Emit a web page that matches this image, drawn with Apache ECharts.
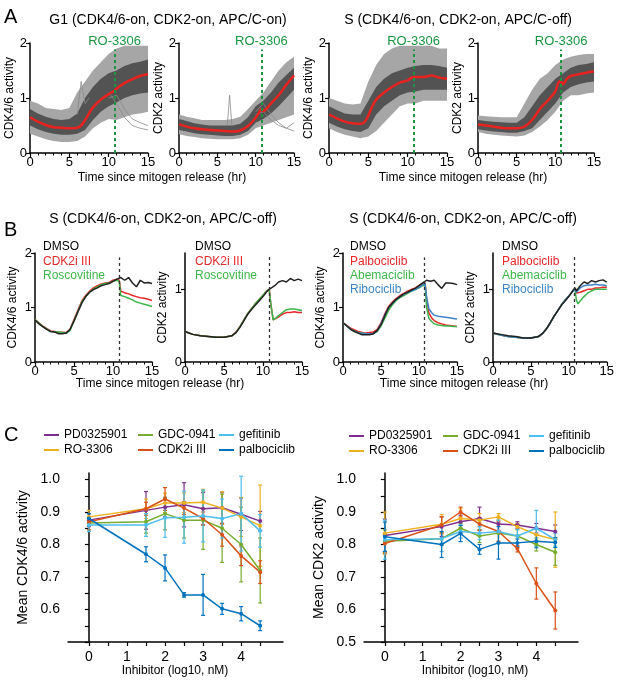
<!DOCTYPE html>
<html>
<head>
<meta charset="utf-8">
<script src="https://cdn.jsdelivr.net/npm/echarts@6/dist/echarts.min.js"></script>
<style>
  html, body { margin: 0; background: #fff; }
  #main { width: 617px; height: 680px; }
</style>
</head>
<body>
<div id="main"></div>
<script>
// ---------- data ----------
var hrs = [0, 1, 2, 3, 4, 5, 6, 7, 8, 9, 10, 11, 12, 13, 14, 15];
var drugTime = 10.75;

// Panel A: single-cell cloud (outer / dense core envelopes at each hour) + mean trace
var a1OuterHi = [0.95, 0.9, 0.82, 0.8, 0.78, 0.82, 1.1, 1.3, 1.5, 1.65, 1.8, 1.9, 1.95, 1.95, 1.95, 1.95];
var a1InnerHi = [0.8, 0.72, 0.66, 0.62, 0.6, 0.62, 0.72, 1.0, 1.2, 1.35, 1.45, 1.5, 1.58, 1.63, 1.66, 1.7];
var a1InnerLo = [0.5, 0.43, 0.38, 0.35, 0.33, 0.33, 0.35, 0.42, 0.6, 0.75, 0.85, 0.92, 1.0, 1.05, 1.08, 1.1];
var a1OuterLo = [0.35, 0.3, 0.25, 0.22, 0.2, 0.2, 0.22, 0.3, 0.45, 0.55, 0.62, 0.6, 0.65, 0.7, 0.72, 0.75];
var a1Mean = [[0,0.65],[1,0.57],[2,0.51],[3,0.47],[4,0.46],[5,0.45],[6,0.46],[6.5,0.5],[7,0.6],[7.5,0.72],[8,0.83],[9,0.97],[10,1.07],[10.75,1.13],[11,1.17],[12,1.27],[13,1.34],[14,1.4],[15,1.43]];
var a1Odd1 = [[10,1.1],[11,0.9],[12,0.65],[13,0.5],[14,0.45],[15,0.42]];
var a1Odd2 = [[10,1.0],[11,1.05],[12,0.8],[13,0.62],[14,0.55],[15,0.5]];
var a1Odd3 = [[6,0.7],[6.5,1.3],[7,0.9],[7.5,1.0]];

var a2OuterHi = [0.7, 0.66, 0.63, 0.6, 0.6, 0.6, 0.6, 0.62, 0.66, 0.8, 0.95, 1.1, 1.3, 1.5, 1.65, 1.75];
var a2InnerHi = [0.62, 0.58, 0.54, 0.52, 0.5, 0.5, 0.5, 0.5, 0.53, 0.65, 0.85, 0.95, 1.1, 1.28, 1.42, 1.55];
var a2InnerLo = [0.42, 0.39, 0.36, 0.34, 0.33, 0.32, 0.31, 0.31, 0.33, 0.4, 0.55, 0.62, 0.72, 0.85, 1.0, 1.15];
var a2OuterLo = [0.34, 0.31, 0.29, 0.27, 0.26, 0.25, 0.25, 0.25, 0.27, 0.33, 0.45, 0.5, 0.55, 0.6, 0.65, 0.7];
var a2Mean = [[0,0.52],[1,0.48],[2,0.45],[3,0.43],[4,0.42],[5,0.41],[6,0.4],[7,0.39],[8,0.41],[9,0.49],[10,0.64],[10.5,0.75],[10.75,0.8],[11,0.76],[11.5,0.82],[12,0.9],[13,1.05],[14,1.24],[15,1.41]];
var a2Odd1 = [[6.3,0.5],[6.6,1.05],[6.9,0.5]];
var a2Odd2 = [[10,0.75],[11,0.9],[12,0.7],[13,0.55],[14,0.45],[15,0.4]];
var a2Odd3 = [[10,0.7],[11,0.75],[12,0.6],[13,0.5],[14,0.45],[15,0.55]];

var a3OuterHi = [1.0, 0.95, 0.9, 0.88, 0.9, 1.3, 1.6, 1.8, 1.9, 1.95, 1.95, 1.95, 1.95, 1.95, 1.9, 1.9];
var a3InnerHi = [0.85, 0.78, 0.72, 0.7, 0.7, 0.95, 1.2, 1.35, 1.45, 1.5, 1.55, 1.58, 1.6, 1.6, 1.58, 1.55];
var a3InnerLo = [0.55, 0.48, 0.43, 0.4, 0.38, 0.45, 0.7, 0.85, 0.95, 1.05, 1.1, 1.12, 1.15, 1.15, 1.15, 1.15];
var a3OuterLo = [0.45, 0.38, 0.33, 0.3, 0.27, 0.3, 0.4, 0.55, 0.7, 0.85, 0.9, 0.9, 0.95, 0.95, 0.95, 0.95];
var a3Mean = [[0,0.7],[1,0.63],[2,0.57],[3,0.54],[4,0.53],[4.5,0.56],[5,0.68],[5.5,0.85],[6,0.97],[7,1.1],[8,1.2],[9,1.28],[10,1.32],[10.5,1.37],[11,1.38],[12,1.38],[13,1.41],[14,1.37],[15,1.35]];

var a4OuterHi = [0.68, 0.67, 0.66, 0.65, 0.65, 0.65, 0.9, 1.15, 1.35, 1.45, 1.6, 1.7, 1.75, 1.78, 1.8, 1.8];
var a4InnerHi = [0.6, 0.58, 0.57, 0.56, 0.55, 0.55, 0.65, 0.85, 1.05, 1.2, 1.35, 1.45, 1.55, 1.6, 1.62, 1.65];
var a4InnerLo = [0.43, 0.41, 0.39, 0.38, 0.37, 0.37, 0.4, 0.45, 0.6, 0.75, 0.9, 1.1, 1.2, 1.25, 1.28, 1.3];
var a4OuterLo = [0.38, 0.35, 0.33, 0.32, 0.31, 0.3, 0.32, 0.38, 0.48, 0.6, 0.75, 0.95, 1.05, 1.05, 1.08, 1.1];
var a4Mean = [[0,0.52],[1,0.5],[2,0.48],[3,0.46],[4,0.45],[5,0.45],[6,0.48],[7,0.6],[8,0.8],[9,0.95],[10,1.12],[10.5,1.3],[10.75,1.3],[11,1.25],[11.5,1.35],[12,1.4],[13,1.43],[14,1.46],[15,1.48]];

// Panel B: mean traces with drug added at drugTime
var b1Dmso = [[0,0.77],[0.5,0.7],[1,0.65],[1.5,0.6],[2,0.56],[2.5,0.55],[3,0.52],[3.5,0.52],[4,0.53],[4.5,0.6],[5,0.75],[5.5,0.92],[6,1.08],[6.5,1.2],[7,1.28],[7.5,1.33],[8,1.36],[8.5,1.4],[9,1.42],[9.5,1.44],[10,1.48],[10.5,1.52],[11,1.55],[11.5,1.5],[12,1.55],[12.5,1.45],[13,1.38],[13.5,1.5],[14,1.45],[14.5,1.46],[15,1.44]];
var b1Cdk2i = [[0,0.78],[1,0.66],[2,0.57],[3,0.55],[4,0.54],[4.5,0.6],[5,0.78],[5.5,0.95],[6,1.12],[6.5,1.22],[7,1.3],[7.5,1.36],[8,1.4],[8.5,1.43],[9,1.45],[9.5,1.46],[10,1.5],[10.5,1.52],[10.8,1.5],[11,1.3],[11.5,1.27],[12,1.25],[12.5,1.22],[13,1.2],[13.5,1.18],[14,1.17],[14.5,1.15],[15,1.13]];
var b1Rosco = [[0,0.78],[1,0.65],[2,0.56],[3,0.55],[4,0.53],[4.5,0.58],[5,0.76],[5.5,0.93],[6,1.1],[6.5,1.2],[7,1.28],[7.5,1.34],[8,1.38],[8.5,1.42],[9,1.44],[9.5,1.45],[10,1.48],[10.5,1.5],[10.8,1.48],[11,1.22],[11.5,1.2],[12,1.17],[12.5,1.14],[13,1.1],[13.5,1.08],[14,1.06],[14.5,1.04],[15,1.02]];

var b2Dmso = [[0,0.42],[0.5,0.4],[1,0.38],[2,0.36],[3,0.35],[4,0.34],[5,0.34],[6,0.36],[6.5,0.4],[7,0.47],[7.5,0.56],[8,0.65],[8.5,0.72],[9,0.78],[9.5,0.84],[10,0.9],[10.5,0.97],[10.8,1.0],[11,0.98],[11.5,1.05],[12,1.1],[12.5,1.12],[13,1.1],[13.5,1.15],[14,1.12],[14.5,1.14],[15,1.12]];
var b2Cdk2i = [[0,0.42],[1,0.38],[2,0.36],[3,0.35],[4,0.34],[5,0.34],[6,0.36],[6.5,0.41],[7,0.48],[7.5,0.57],[8,0.66],[8.5,0.73],[9,0.8],[9.5,0.86],[10,0.92],[10.5,0.98],[10.8,1.0],[11,0.8],[11.3,0.58],[11.7,0.6],[12,0.62],[12.5,0.66],[13,0.68],[13.5,0.68],[14,0.69],[14.5,0.68],[15,0.68]];
var b2Rosco = [[0,0.42],[1,0.38],[2,0.36],[3,0.35],[4,0.34],[5,0.34],[6,0.36],[6.5,0.4],[7,0.48],[7.5,0.57],[8,0.66],[8.5,0.73],[9,0.8],[9.5,0.86],[10,0.92],[10.5,0.98],[10.8,1.0],[11,0.8],[11.3,0.58],[11.7,0.61],[12,0.64],[12.5,0.68],[13,0.72],[13.5,0.73],[14,0.73],[14.5,0.72],[15,0.71]];

var b3Dmso = [[0,0.72],[0.5,0.66],[1,0.6],[1.5,0.56],[2,0.53],[2.5,0.5],[3,0.5],[3.5,0.5],[4,0.52],[4.5,0.58],[5,0.68],[5.5,0.85],[6,1.0],[6.5,1.08],[7,1.15],[7.5,1.2],[8,1.25],[8.5,1.28],[9,1.32],[9.5,1.35],[10,1.4],[10.5,1.45],[11,1.5],[11.5,1.48],[12,1.5],[12.5,1.42],[13,1.35],[13.5,1.45],[14,1.45],[14.5,1.44],[15,1.42]];
var b3Palbo = [[0,0.72],[1,0.62],[2,0.56],[3,0.53],[4,0.55],[4.5,0.6],[5,0.72],[5.5,0.88],[6,1.02],[6.5,1.1],[7,1.17],[7.5,1.22],[8,1.26],[8.5,1.3],[9,1.33],[9.5,1.36],[10,1.4],[10.5,1.45],[10.8,1.45],[11,1.15],[11.3,0.9],[11.7,0.8],[12,0.76],[12.5,0.72],[13,0.7],[13.5,0.68],[14,0.67],[14.5,0.66],[15,0.65]];
var b3Abema = [[0,0.72],[1,0.6],[2,0.54],[3,0.52],[4,0.52],[4.5,0.56],[5,0.66],[5.5,0.8],[6,0.95],[6.5,1.05],[7,1.13],[7.5,1.18],[8,1.22],[8.5,1.26],[9,1.3],[9.5,1.33],[10,1.36],[10.5,1.4],[10.8,1.42],[11,1.0],[11.3,0.8],[11.7,0.74],[12,0.7],[12.5,0.68],[13,0.67],[13.5,0.66],[14,0.66],[14.5,0.65],[15,0.65]];
var b3Ribo = [[0,0.72],[1,0.6],[2,0.53],[3,0.52],[4,0.52],[4.5,0.57],[5,0.7],[5.5,0.86],[6,1.0],[6.5,1.08],[7,1.15],[7.5,1.2],[8,1.24],[8.5,1.28],[9,1.3],[9.5,1.33],[10,1.37],[10.5,1.42],[10.8,1.44],[11,1.2],[11.3,0.98],[11.7,0.9],[12,0.86],[12.5,0.84],[13,0.83],[13.5,0.82],[14,0.81],[14.5,0.8],[15,0.79]];

var b4Dmso = [[0,0.4],[0.5,0.39],[1,0.38],[2,0.36],[3,0.35],[4,0.33],[5,0.33],[6,0.35],[6.5,0.39],[7,0.45],[7.5,0.53],[8,0.62],[8.5,0.7],[9,0.78],[9.5,0.84],[10,0.9],[10.5,0.98],[10.8,1.02],[11,0.98],[11.5,1.05],[12,1.1],[12.5,1.08],[13,1.12],[13.5,1.1],[14,1.12],[14.5,1.13],[15,1.1]];
var b4Palbo = [[0,0.4],[1,0.37],[2,0.35],[3,0.34],[4,0.33],[5,0.33],[6,0.35],[6.5,0.39],[7,0.45],[7.5,0.53],[8,0.62],[8.5,0.7],[9,0.78],[9.5,0.85],[10,0.91],[10.5,0.97],[10.8,1.0],[11,0.95],[11.5,0.96],[12,0.98],[12.5,1.0],[13,1.0],[13.5,1.02],[14,1.02],[14.5,1.03],[15,1.03]];
var b4Abema = [[0,0.4],[1,0.37],[2,0.35],[3,0.34],[4,0.33],[5,0.33],[6,0.35],[6.5,0.39],[7,0.45],[7.5,0.53],[8,0.62],[8.5,0.7],[9,0.78],[9.5,0.85],[10,0.91],[10.5,0.97],[10.8,1.0],[11,0.85],[11.2,0.8],[11.5,0.84],[12,0.9],[12.5,0.95],[13,0.98],[13.5,1.0],[14,1.0],[14.5,1.0],[15,1.0]];
var b4Ribo = [[0,0.4],[1,0.37],[2,0.35],[3,0.34],[4,0.33],[5,0.33],[6,0.35],[6.5,0.39],[7,0.45],[7.5,0.53],[8,0.62],[8.5,0.7],[9,0.78],[9.5,0.85],[10,0.91],[10.5,0.97],[10.8,1.0],[11,0.96],[11.5,1.02],[12,1.05],[12.5,1.06],[13,1.06],[13.5,1.07],[14,1.06],[14.5,1.06],[15,1.05]];

// Panel C: dose response (log10 nM), mean and error
var doses = [0, 1.5, 2, 2.5, 3, 3.5, 4, 4.5];
var drugs = ['PD0325901', 'RO-3306', 'GDC-0941', 'CDK2i III', 'gefitinib', 'palbociclib'];
var drugColors = ['#7e2f8e', '#edb120', '#77ac30', '#d95319', '#4dbeee', '#0072bd'];

var c1Mean = [
  [0.875, 0.905, 0.915, 0.922, 0.91, 0.913, 0.893, 0.872],
  [0.885, 0.91, 0.928, 0.928, 0.93, 0.912, 0.885, 0.858],
  [0.866, 0.87, 0.895, 0.875, 0.875, 0.85, 0.80, 0.72],
  [0.87, 0.91, 0.94, 0.912, 0.88, 0.83, 0.765, 0.715],
  [0.86, 0.86, 0.882, 0.884, 0.888, 0.88, 0.895, 0.842],
  [0.88, 0.77, 0.728, 0.645, 0.645, 0.602, 0.587, 0.55]
];
var c1Err = [
  [0.02, 0.058, 0.03, 0.068, 0.05, 0.048, 0.05, 0.03],
  [0.02, 0.03, 0.03, 0.03, 0.04, 0.05, 0.06, 0.125],
  [0.02, 0.035, 0.05, 0.055, 0.09, 0.105, 0.115, 0.1],
  [0.025, 0.02, 0.035, 0.02, 0.02, 0.035, 0.03, 0.035],
  [0.02, 0.035, 0.06, 0.08, 0.08, 0.06, 0.115, 0.05],
  [0.015, 0.023, 0.04, 0.007, 0.063, 0.017, 0.022, 0.015]
];
var c2Mean = [
  [0.828, 0.855, 0.87, 0.88, 0.863, 0.86, 0.85, 0.84],
  [0.835, 0.862, 0.88, 0.875, 0.885, 0.855, 0.83, 0.815],
  [0.81, 0.818, 0.85, 0.826, 0.835, 0.826, 0.8, 0.776],
  [0.803, 0.86, 0.9, 0.863, 0.84, 0.787, 0.68, 0.597],
  [0.815, 0.818, 0.84, 0.835, 0.84, 0.826, 0.85, 0.815],
  [0.824, 0.8, 0.834, 0.785, 0.805, 0.805, 0.81, 0.806]
];
var c2Err = [
  [0.05, 0.03, 0.02, 0.035, 0.02, 0.01, 0.015, 0.02],
  [0.065, 0.03, 0.03, 0.02, 0.01, 0.01, 0.02, 0.085],
  [0.035, 0.02, 0.015, 0.02, 0.03, 0.035, 0.02, 0.04],
  [0.03, 0.025, 0.015, 0.02, 0.03, 0.01, 0.048, 0.057],
  [0.06, 0.04, 0.02, 0.02, 0.035, 0.02, 0.055, 0.02],
  [0.045, 0.04, 0.025, 0.015, 0.05, 0.012, 0.02, 0.015]
];

// ---------- chart ----------
var FONT = '"Liberation Sans", Arial, sans-serif';
var chart = echarts.init(document.getElementById('main'));

var grids = [
  { left: 30, top: 43, width: 118, height: 110 },
  { left: 179, top: 43, width: 115, height: 110 },
  { left: 329, top: 43, width: 118, height: 110 },
  { left: 478, top: 43, width: 116, height: 110 },
  { left: 35, top: 253, width: 117, height: 109 },
  { left: 185, top: 253, width: 117, height: 109 },
  { left: 343, top: 253, width: 114, height: 109 },
  { left: 493, top: 253, width: 115, height: 109 },
  { left: 68, top: 473, width: 215, height: 169 },
  { left: 364, top: 473, width: 214, height: 169 }
];

var axisLine = { show: true, lineStyle: { color: '#000', width: 1.5 } };
var tick = { show: true, inside: false, length: 4, lineStyle: { color: '#000', width: 1.2 } };

var xAxes = [], yAxes = [];
for (var i = 0; i < 8; i++) {
  xAxes.push({
    gridIndex: i, type: 'value', min: 0, max: 15, interval: 5,
    axisLine: axisLine, axisTick: tick,
    minorTick: { show: true, splitNumber: 5, length: 2.5, lineStyle: { color: '#000', width: 1 } },
    splitLine: { show: false },
    axisLabel: { color: '#000', fontSize: 13, fontFamily: FONT, margin: 3 }
  });
  var isCdk2 = (i % 2 === 1);
  var isB = i >= 4;
  var y = {
    gridIndex: i, type: 'value', min: 0,
    max: (isB && isCdk2) ? 1.5 : 2, interval: 1,
    name: isCdk2 ? 'CDK2 activity' : 'CDK4/6 activity',
    nameLocation: 'middle', nameGap: isB ? 16 : 14,
    nameTextStyle: { color: '#000', fontSize: 12, fontFamily: FONT },
    axisLine: axisLine, axisTick: tick, splitLine: { show: false },
    axisLabel: { color: '#000', fontSize: 13, fontFamily: FONT, margin: 3 }
  };
  if (isB && isCdk2) {
    y.axisLabel.customValues = [0, 1];
    y.axisTick = Object.assign({}, tick, { customValues: [0, 1] });
  }
  yAxes.push(y);
}
[8, 9].forEach(function (g) {
  xAxes.push({
    gridIndex: g, type: 'value', min: -0.55, max: 5.1,
    axisLine: axisLine,
    axisTick: Object.assign({}, tick, { customValues: [0, 0.5, 1, 1.5, 2, 2.5, 3, 3.5, 4, 4.5] }),
    splitLine: { show: false },
    axisLabel: { color: '#000', fontSize: 14, fontFamily: FONT, margin: 8, customValues: [0, 1, 2, 3, 4] }
  });
  yAxes.push({
    gridIndex: g, type: 'value', min: 0.5, max: 1.02,
    name: g === 8 ? 'Mean CDK4/6 activity' : 'Mean CDK2 activity',
    nameLocation: 'middle', nameGap: 38,
    nameTextStyle: { color: '#000', fontSize: 14, fontFamily: FONT },
    axisLine: axisLine,
    axisTick: Object.assign({}, tick, { customValues: [0.5, 0.55, 0.6, 0.65, 0.7, 0.75, 0.8, 0.85, 0.9, 0.95, 1.0] }),
    splitLine: { show: false },
    axisLabel: {
      color: '#000', fontSize: 14, fontFamily: FONT, margin: 8,
      customValues: g === 8 ? [0.6, 0.7, 0.8, 0.9, 1.0] : [0.5, 0.6, 0.7, 0.8, 0.9, 1.0],
      formatter: function (v) { return v.toFixed(1); }
    }
  });
});

var series = [];

function band(g, lo, hi, color) {
  return {
    type: 'custom', xAxisIndex: g, yAxisIndex: g, silent: true, z: 1,
    data: hrs.map(function (t, k) { return [t, lo[k], hi[k]]; }),
    encode: { x: 0, y: [1, 2] },
    renderItem: function (params, api) {
      if (params.dataIndex !== 0) return null;
      var top = hrs.map(function (t, k) { return api.coord([t, hi[k]]); });
      var bot = hrs.map(function (t, k) { return api.coord([t, lo[k]]); }).reverse();
      return { type: 'polygon', shape: { points: top.concat(bot) }, style: { fill: color } };
    }
  };
}
function line(g, data, color, width, extra) {
  return Object.assign({
    type: 'line', xAxisIndex: g, yAxisIndex: g, data: data, showSymbol: false,
    silent: true, lineStyle: { color: color, width: width }, itemStyle: { color: color }, z: 3
  }, extra || {});
}
function drugMark(g, top, color, width, label) {
  return {
    symbol: 'none', silent: true,
    lineStyle: { color: color, type: [3, 3], width: width },
    label: label ? { show: true, position: 'end', formatter: label, color: color, fontSize: 13, fontFamily: FONT, distance: 2 } : { show: false },
    data: [[{ coord: [drugTime, 0] }, { coord: [drugTime, top] }]]
  };
}

// Panel A
var aSets = [
  [a1OuterLo, a1OuterHi, a1InnerLo, a1InnerHi, a1Mean, [a1Odd1, a1Odd2, a1Odd3]],
  [a2OuterLo, a2OuterHi, a2InnerLo, a2InnerHi, a2Mean, [a2Odd1, a2Odd2, a2Odd3]],
  [a3OuterLo, a3OuterHi, a3InnerLo, a3InnerHi, a3Mean, []],
  [a4OuterLo, a4OuterHi, a4InnerLo, a4InnerHi, a4Mean, []]
];
aSets.forEach(function (s, g) {
  series.push(band(g, s[0], s[1], '#a6a6a6'));
  series.push(band(g, s[2], s[3], '#535353'));
  s[5].forEach(function (tr) { series.push(line(g, tr, '#8a8a8a', 0.8, { z: 2 })); });
  series.push(line(g, s[4], '#e8231f', 2.5, { smooth: 0.3, markLine: drugMark(g, 1.88, '#1a9641', 2, 'RO-3306') }));
});

// Panel B
var bRed = '#e8282b', bGreen = '#3db54a', bBlue = '#3d85c6';
series.push(line(4, b1Cdk2i, bRed, 1.5));
series.push(line(4, b1Rosco, bGreen, 1.5));
series.push(line(4, b1Dmso, '#222', 1.5, { markLine: drugMark(4, 1.92, '#333', 1.3) }));
series.push(line(5, b2Cdk2i, bRed, 1.5));
series.push(line(5, b2Rosco, bGreen, 1.5));
series.push(line(5, b2Dmso, '#222', 1.5, { markLine: drugMark(5, 1.45, '#333', 1.3) }));
series.push(line(6, b3Palbo, bRed, 1.5));
series.push(line(6, b3Abema, bGreen, 1.5));
series.push(line(6, b3Ribo, bBlue, 1.5));
series.push(line(6, b3Dmso, '#222', 1.5, { markLine: drugMark(6, 1.92, '#333', 1.3) }));
series.push(line(7, b4Palbo, bRed, 1.5));
series.push(line(7, b4Abema, bGreen, 1.5));
series.push(line(7, b4Ribo, bBlue, 1.5));
series.push(line(7, b4Dmso, '#222', 1.5, { markLine: drugMark(7, 1.45, '#333', 1.3) }));

// Panel C
function errBars(g, ys, es, color) {
  return {
    type: 'custom', xAxisIndex: g, yAxisIndex: g, silent: true, z: 2,
    data: doses.map(function (d, k) { return [d, ys[k] - es[k], ys[k] + es[k]]; }),
    encode: { x: 0, y: [1, 2] },
    renderItem: function (params, api) {
      var lo = api.coord([api.value(0), api.value(1)]);
      var hi = api.coord([api.value(0), api.value(2)]);
      var st = { stroke: color, lineWidth: 1.2 };
      return {
        type: 'group', children: [
          { type: 'line', shape: { x1: lo[0], y1: lo[1], x2: hi[0], y2: hi[1] }, style: st },
          { type: 'line', shape: { x1: lo[0] - 2, y1: lo[1], x2: lo[0] + 2, y2: lo[1] }, style: st },
          { type: 'line', shape: { x1: hi[0] - 2, y1: hi[1], x2: hi[0] + 2, y2: hi[1] }, style: st }
        ]
      };
    }
  };
}
[[8, c1Mean, c1Err], [9, c2Mean, c2Err]].forEach(function (p) {
  drugs.forEach(function (name, k) {
    series.push(errBars(p[0], p[1][k], p[2][k], drugColors[k]));
    series.push({
      type: 'line', name: name, xAxisIndex: p[0], yAxisIndex: p[0], silent: true, z: 3,
      data: doses.map(function (d, j) { return [d, p[1][k][j]]; }),
      symbol: 'circle', symbolSize: 4, showSymbol: true,
      lineStyle: { color: drugColors[k], width: 1.5 }, itemStyle: { color: drugColors[k] }
    });
  });
});

function legendCol(left, top, names) {
  return {
    left: left, top: top, orient: 'vertical', itemGap: 3, itemWidth: 15, itemHeight: 2,
    icon: 'rect', selectedMode: false, data: names, padding: 0,
    textStyle: { color: '#000', fontSize: 12, fontFamily: FONT }
  };
}
var legends = [
  legendCol(44, 429, ['PD0325901', 'RO-3306']),
  legendCol(138, 429, ['GDC-0941', 'CDK2i III']),
  legendCol(219, 429, ['gefitinib', 'palbociclib']),
  legendCol(349, 430, ['PD0325901', 'RO-3306']),
  legendCol(443, 430, ['GDC-0941', 'CDK2i III']),
  legendCol(529, 430, ['gefitinib', 'palbociclib'])
];

function txt(s, x, y, size, color, align) {
  return {
    type: 'text', x: x, y: y, silent: true,
    style: { text: s, fontSize: size, fontFamily: FONT, fill: color || '#000', textAlign: align || 'center', textVerticalAlign: 'middle' }
  };
}
var graphics = [
  txt('A', 4, 17, 20, '#000', 'left'),
  txt('B', 4, 230, 20, '#000', 'left'),
  txt('C', 4, 435, 20, '#000', 'left'),
  txt('G1 (CDK4/6-on, CDK2-on, APC/C-on)', 168, 20, 14),
  txt('S (CDK4/6-on, CDK2-on, APC/C-off)', 458, 20, 14),
  txt('S (CDK4/6-on, CDK2-on, APC/C-off)', 163, 219, 14),
  txt('S (CDK4/6-on, CDK2-on, APC/C-off)', 463, 219, 14),
  txt('Time since mitogen release (hr)', 162, 178, 12),
  txt('Time since mitogen release (hr)', 463, 178, 12),
  txt('Time since mitogen release (hr)', 160, 384, 12),
  txt('Time since mitogen release (hr)', 464, 384, 12),
  txt('Inhibitor (log10, nM)', 175, 671, 12),
  txt('Inhibitor (log10, nM)', 475, 671, 12),
  txt('DMSO', 43, 247, 12, '#000', 'left'),
  txt('CDK2i III', 43, 262, 12, bRed, 'left'),
  txt('Roscovitine', 43, 276, 12, bGreen, 'left'),
  txt('DMSO', 195, 247, 12, '#000', 'left'),
  txt('CDK2i III', 195, 262, 12, bRed, 'left'),
  txt('Roscovitine', 195, 276, 12, bGreen, 'left'),
  txt('DMSO', 350, 247, 12, '#000', 'left'),
  txt('Palbociclib', 350, 262, 12, bRed, 'left'),
  txt('Abemaciclib', 350, 276, 12, bGreen, 'left'),
  txt('Ribociclib', 350, 290, 12, bBlue, 'left'),
  txt('DMSO', 502, 247, 12, '#000', 'left'),
  txt('Palbociclib', 502, 262, 12, bRed, 'left'),
  txt('Abemaciclib', 502, 276, 12, bGreen, 'left'),
  txt('Ribociclib', 502, 290, 12, bBlue, 'left')
];

chart.setOption({
  animation: false,
  backgroundColor: '#fff',
  textStyle: { fontFamily: FONT },
  grid: grids,
  xAxis: xAxes,
  yAxis: yAxes,
  legend: legends,
  graphic: graphics,
  series: series
});
</script>
</body>
</html>
